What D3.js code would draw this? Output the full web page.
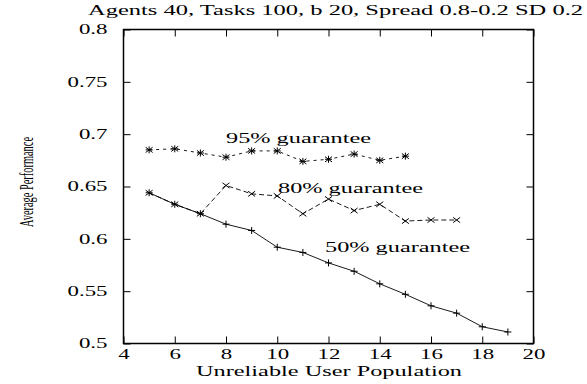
<!DOCTYPE html>
<html>
<head>
<meta charset="utf-8">
<script src="https://cdn.jsdelivr.net/npm/d3@7"></script>
<style>
  body { margin: 0; background: #fff; }
  svg { display: block; }
  text { fill: #000; }
</style>
</head>
<body>
<svg id="chart" width="587" height="384"></svg>
<script>
// values
const title = "Agents 40, Tasks 100, b 20, Spread 0.8-0.2 SD 0.2";
const xLabel = "Unreliable User Population";
const yLabel = "Average Performance";

const xTicks = [4, 6, 8, 10, 12, 14, 16, 18, 20];
const yTicks = [0.5, 0.55, 0.6, 0.65, 0.7, 0.75, 0.8];

const pop95 = [5, 6, 7, 8, 9, 10, 11, 12, 13, 14, 15];
const perf95 = [0.685, 0.686, 0.682, 0.678, 0.684, 0.684, 0.674, 0.676, 0.681, 0.675, 0.679];

const pop80 = [5, 6, 7, 8, 9, 10, 11, 12, 13, 14, 15, 16, 17];
const perf80 = [0.644, 0.633, 0.624, 0.651, 0.643, 0.641, 0.624, 0.638, 0.627, 0.633, 0.617, 0.618, 0.618];

const pop50 = [5, 6, 7, 8, 9, 10, 11, 12, 13, 14, 15, 16, 17, 18, 19];
const perf50 = [0.644, 0.633, 0.624, 0.614, 0.608, 0.592, 0.587, 0.577, 0.569, 0.557, 0.547, 0.536, 0.529, 0.516, 0.511];

const seriesLabels = ["95% guarantee", "80% guarantee", "50% guarantee"];

const svg = d3.select("#chart");
const plot = { left: 123.5, right: 533.5, top: 29.5, bottom: 343.5 };
const tick = 7;
const serif = "'Liberation Serif', serif";

const x = d3.scaleLinear().domain([4, 20]).range([plot.left, plot.right]);
const y = d3.scaleLinear().domain([0.5, 0.8]).range([plot.bottom, plot.top]);

// stretch text horizontally like the original (wide postscript fonts)
function stretch(sel, k) {
  sel.each(function () {
    const w = this.getComputedTextLength();
    this.setAttribute("textLength", w * k);
    this.setAttribute("lengthAdjust", "spacingAndGlyphs");
  });
}
function fitTo(sel, width) {
  sel.attr("textLength", width).attr("lengthAdjust", "spacingAndGlyphs");
}

// axes with inward ticks, mirrored
const gx = svg.append("g")
  .attr("transform", `translate(0,${plot.bottom})`)
  .call(d3.axisBottom(x).tickValues(xTicks).tickSizeInner(-tick).tickSizeOuter(0).tickPadding(6).tickFormat(d3.format("d")));
const gy = svg.append("g")
  .attr("transform", `translate(${plot.left},0)`)
  .call(d3.axisLeft(y).tickValues(yTicks).tickSizeInner(-tick).tickSizeOuter(0).tickPadding(16).tickFormat(d => String(d)));
svg.append("g")
  .attr("transform", `translate(0,${plot.top})`)
  .call(d3.axisTop(x).tickValues(xTicks).tickSizeInner(-tick).tickSizeOuter(0).tickFormat(""));
svg.append("g")
  .attr("transform", `translate(${plot.right},0)`)
  .call(d3.axisRight(y).tickValues(yTicks).tickSizeInner(-tick).tickSizeOuter(0).tickFormat(""));

svg.selectAll(".domain").remove();
svg.selectAll(".tick line").attr("stroke", "#000").attr("stroke-width", 1);
svg.selectAll(".tick text")
  .attr("font-family", serif)
  .attr("font-size", 14)
  .attr("fill", "#000");

let k = 1.6;
gy.selectAll(".tick text").each(function (d) {
  if (d === 0.75) k = 40 / this.getComputedTextLength();
});
stretch(gx.selectAll(".tick text"), k);
stretch(gy.selectAll(".tick text"), k);

// frame
svg.append("rect")
  .attr("x", plot.left).attr("y", plot.top)
  .attr("width", plot.right - plot.left).attr("height", plot.bottom - plot.top)
  .attr("fill", "none").attr("stroke", "#000").attr("stroke-width", 1.5);

// series
const line = d3.line().x(d => x(d[0])).y(d => y(d[1]));
const s = 3.5;
const plus = (cx, cy) => `M${cx - s},${cy}H${cx + s}M${cx},${cy - s}V${cy + s}`;
const cross = (cx, cy) => `M${cx - s},${cy - s * 0.75}L${cx + s},${cy + s * 0.75}M${cx - s},${cy + s * 0.75}L${cx + s},${cy - s * 0.75}`;
const star = (cx, cy) => plus(cx, cy) + cross(cx, cy);

const series = [
  { pop: pop50, perf: perf50, dash: null, marker: plus },
  { pop: pop80, perf: perf80, dash: "5,3", marker: cross },
  { pop: pop95, perf: perf95, dash: "3,4", marker: star }
];

series.forEach(sr => {
  const pts = sr.pop.map((p, i) => [p, sr.perf[i]]);
  svg.append("path")
    .datum(pts)
    .attr("d", line)
    .attr("fill", "none")
    .attr("stroke", "#000")
    .attr("stroke-width", 0.9)
    .attr("stroke-dasharray", sr.dash);
  svg.append("g")
    .selectAll("path")
    .data(pts)
    .join("path")
    .attr("d", d => sr.marker(x(d[0]), y(d[1])))
    .attr("stroke", "#000")
    .attr("stroke-width", 1)
    .attr("fill", "none");
});

// in-plot labels
const labelPos = [[226, 143], [278, 193], [325, 252]];
seriesLabels.forEach((t, i) => {
  svg.append("text")
    .attr("x", labelPos[i][0]).attr("y", labelPos[i][1])
    .attr("font-family", serif).attr("font-size", 14.5)
    .text(t)
    .call(fitTo, 145);
});

// title
svg.append("text")
  .attr("x", 88).attr("y", 15)
  .attr("font-family", serif).attr("font-size", 14.5)
  .text(title)
  .call(fitTo, 495);

// x label
svg.append("text")
  .attr("x", 196).attr("y", 376)
  .attr("font-family", serif).attr("font-size", 15)
  .text(xLabel)
  .call(fitTo, 266);

// y label (narrow)
svg.append("text")
  .attr("transform", "translate(33,227) rotate(-90)")
  .attr("font-family", serif).attr("font-size", 18)
  .text(yLabel)
  .call(fitTo, 90);
</script>
</body>
</html>
